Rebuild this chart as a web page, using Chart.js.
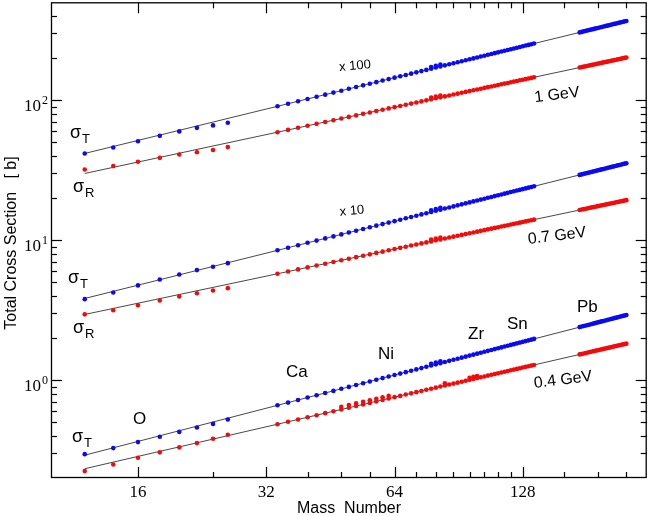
<!DOCTYPE html>
<html>
<head>
<meta charset="utf-8">
<script src="https://cdn.jsdelivr.net/npm/chart.js@4.4.1/dist/chart.umd.min.js"></script>
<style>
  html, body { margin: 0; padding: 0; background: #fff; }
  #wrap { width: 649px; height: 516px; }
</style>
</head>
<body>
<div id="wrap"><canvas id="xsChart"></canvas></div>
<script>
// mass numbers of the measured nuclei
const massNumber = [12, 14, 16, 18, 20, 22, 24, 26,
  34, 36, 38, 40, 42, 44, 46, 48, 50, 52, 54, 56, 58, 60, 62, 64, 66, 68, 70, 72, 74, 76, 78, 80,
  82, 84, 86, 88, 90, 92, 94, 96, 98, 100, 102, 104, 106, 108, 110, 112, 114, 116, 118, 120,
  122, 124, 126, 128, 130, 132, 134, 136,
  174, 176, 178, 180, 182, 184, 186, 188, 190, 192, 194, 196, 198, 200, 202, 204, 206, 208,
  210, 212, 214, 216, 218, 220, 222, 224];

// 0.4 GeV (x1)
const sigT04 = [0.296, 0.327, 0.361, 0.394, 0.427, 0.459, 0.487, 0.524,
  0.661, 0.691, 0.721, 0.751, 0.780, 0.810, 0.838, 0.867, 0.895, 0.924, 0.951, 0.979, 1.006, 1.034,
  1.061, 1.088, 1.114, 1.141, 1.167, 1.193, 1.219, 1.245, 1.271, 1.297, 1.322, 1.347, 1.373, 1.398,
  1.423, 1.448, 1.472, 1.497, 1.521, 1.546, 1.570, 1.594, 1.619, 1.643, 1.667, 1.690, 1.714, 1.738,
  1.761, 1.785, 1.808, 1.832, 1.855, 1.878, 1.901, 1.924, 1.947, 1.970,
  2.392, 2.414, 2.435, 2.457, 2.478, 2.500, 2.521, 2.542, 2.564, 2.585, 2.606, 2.627, 2.648, 2.669,
  2.690, 2.711, 2.732, 2.753, 2.774, 2.795, 2.815, 2.836, 2.857, 2.877, 2.898, 2.918];
const sigR04 = [0.224, 0.250, 0.279, 0.305, 0.331, 0.355, 0.381, 0.407,
  0.484, 0.504, 0.524, 0.543, 0.562, 0.581, 0.599, 0.617, 0.635, 0.653, 0.671, 0.688, 0.705, 0.722,
  0.739, 0.756, 0.772, 0.789, 0.805, 0.821, 0.837, 0.853, 0.868, 0.884, 0.900, 0.915, 0.930, 0.945,
  0.960, 0.975, 0.990, 1.005, 1.020, 1.034, 1.049, 1.063, 1.078, 1.092, 1.106, 1.120, 1.134, 1.148,
  1.162, 1.176, 1.189, 1.203, 1.217, 1.230, 1.244, 1.257, 1.270, 1.284,
  1.527, 1.539, 1.551, 1.564, 1.576, 1.588, 1.600, 1.612, 1.624, 1.636, 1.648, 1.660, 1.672, 1.684,
  1.696, 1.707, 1.719, 1.731, 1.743, 1.754, 1.766, 1.777, 1.789, 1.800, 1.812, 1.823];

// 0.7 GeV (x10)
const sigT07 = [3.79, 4.23, 4.75, 5.24, 5.69, 6.11, 6.45, 6.85,
  8.46, 8.83, 9.20, 9.57, 9.93, 10.29, 10.64, 10.99, 11.34, 11.68, 12.02, 12.36, 12.69, 13.02,
  13.35, 13.67, 14.00, 14.32, 14.64, 14.95, 15.27, 15.58, 15.89, 16.20, 16.51, 16.81, 17.12, 17.42,
  17.72, 18.02, 18.32, 18.61, 18.91, 19.20, 19.49, 19.78, 20.07, 20.35, 20.64, 20.92, 21.21, 21.49,
  21.77, 22.05, 22.33, 22.61, 22.88, 23.16, 23.43, 23.71, 23.98, 24.25,
  29.24, 29.49, 29.75, 30.01, 30.26, 30.51, 30.76, 31.01, 31.26, 31.51, 31.76, 32.01, 32.26, 32.51,
  32.75, 33.00, 33.24, 33.49, 33.73, 33.98, 34.22, 34.46, 34.71, 34.95, 35.19, 35.43];
const sigR07 = [2.95, 3.16, 3.43, 3.71, 3.96, 4.18, 4.37, 4.54,
  5.75, 5.97, 6.18, 6.39, 6.59, 6.79, 6.98, 7.18, 7.37, 7.56, 7.74, 7.92, 8.11, 8.28,
  8.46, 8.64, 8.81, 8.98, 9.15, 9.31, 9.48, 9.64, 9.80, 9.97, 10.12, 10.28, 10.44, 10.59,
  10.75, 10.90, 11.05, 11.20, 11.35, 11.50, 11.65, 11.79, 11.94, 12.08, 12.23, 12.37, 12.51, 12.65,
  12.79, 12.93, 13.07, 13.20, 13.34, 13.48, 13.61, 13.75, 13.88, 14.01,
  16.42, 16.54, 16.66, 16.78, 16.90, 17.02, 17.14, 17.25, 17.37, 17.49, 17.61, 17.72, 17.84, 17.95,
  18.07, 18.18, 18.29, 18.41, 18.52, 18.63, 18.75, 18.86, 18.97, 19.08, 19.19, 19.31];

// 1 GeV (x100)
const sigT10 = [41.6, 45.9, 50.9, 55.6, 59.8, 63.4, 66.0, 68.9,
  90.4, 94.3, 98.2, 102.0, 105.8, 109.5, 113.2, 116.8, 120.5, 124.0, 127.6, 131.1, 134.5, 138.0,
  141.4, 144.8, 148.1, 151.4, 154.7, 158.0, 161.3, 164.5, 167.7, 170.9, 174.1, 177.3, 180.4, 183.5,
  186.6, 189.7, 192.7, 195.8, 198.8, 201.8, 204.8, 207.8, 210.8, 213.7, 216.7, 219.6, 222.5, 225.4,
  228.3, 231.2, 234.0, 236.9, 239.7, 242.5, 245.4, 248.2, 251.0, 253.7,
  304.8, 307.4, 310.0, 312.6, 315.2, 317.8, 320.3, 322.9, 325.5, 328.0, 330.6, 333.1, 335.6, 338.1,
  340.6, 343.1, 345.6, 348.1, 350.6, 353.1, 355.6, 358.0, 360.5, 363.0, 365.4, 367.9];
const sigR10 = [32.0, 33.8, 36.3, 38.7, 40.9, 42.5, 44.0, 46.2,
  59.0, 61.3, 63.5, 65.6, 67.7, 69.8, 71.9, 73.9, 75.9, 77.8, 79.8, 81.7, 83.6, 85.5,
  87.3, 89.1, 90.9, 92.7, 94.5, 96.2, 98.0, 99.7, 101.4, 103.1, 104.7, 106.4, 108.0, 109.7,
  111.3, 112.9, 114.5, 116.1, 117.6, 119.2, 120.7, 122.3, 123.8, 125.3, 126.8, 128.3, 129.8, 131.3,
  132.7, 134.2, 135.7, 137.1, 138.6, 140.0, 141.4, 142.8, 144.2, 145.6,
  171.0, 172.2, 173.5, 174.8, 176.0, 177.3, 178.6, 179.8, 181.0, 182.3, 183.5, 184.7, 186.0, 187.2,
  188.4, 189.6, 190.8, 192.0, 193.2, 194.4, 195.6, 196.8, 198.0, 199.2, 200.4, 201.6];

// second measurements at the same mass number
const extraMass = [78, 80, 82];
const extraT04 = [1.309, 1.336, 1.362];
const extraT07 = [16.37, 16.69, 17.01];
const extraR07 = [10.09, 10.27, 10.42];
const extraT10 = [172.7, 176.0, 179.3];
const extraR10 = [104.4, 106.2, 107.8];
const extraMassR04 = [48, 50, 52, 54, 56, 58, 60, 62, 84, 96, 98, 100];
const extraR04 = [0.645, 0.664, 0.682, 0.701, 0.719, 0.737, 0.754, 0.772, 0.951, 1.040, 1.055, 1.070];

// fitted power laws, end points
const fitMass = [12, 224];
const fitT04 = [0.291, 2.918];
const fitR04 = [0.233, 1.823];
const fitT07 = [3.833, 35.43];
const fitR07 = [2.946, 19.31];
const fitT10 = [41.62, 367.9];
const fitR10 = [29.95, 201.6];

// axis ticks
const xMajorTicks = [16, 32, 64, 128];
const xMinorTicks = [24, 40, 48, 56, 72, 80, 88, 96, 104, 112, 120, 160, 192, 224];
const yMajorTicks = [1, 10, 100];
const yMinorTicks = [0.3, 0.4, 0.5, 0.6, 0.7, 0.8, 0.9, 2, 3, 4, 5, 6, 7, 8, 9,
  20, 30, 40, 50, 60, 70, 80, 90, 200, 300, 400];

const BLUE = 'rgb(10,10,245)';
const RED = 'rgb(245,10,10)';

const toPts = (xs, ys) => xs.map((x, i) => ({ x: x, y: ys[i] }));

function dots(label, xs, ys, color) {
    return {
        label: label,
        data: toPts(xs, ys),
        backgroundColor: color,
        borderWidth: 0,
        pointRadius: 2.3,
        pointHoverRadius: 2.3,
        order: 1
    };
}

function fit(label, xs, ys) {
    return {
        label: label,
        data: toPts(xs, ys),
        showLine: true,
        borderColor: '#333',
        borderWidth: 0.9,
        pointRadius: 0,
        fill: false,
        order: 2
    };
}

// text written on the plot (pixel positions)
const sigmaLabels = [
    { x: 70, y: 138, sub: 'T' },
    { x: 73, y: 192, sub: 'R' },
    { x: 68, y: 283, sub: 'T' },
    { x: 73, y: 333, sub: 'R' },
    { x: 72, y: 442, sub: 'T' }
];
const nucleusLabels = [
    { text: 'O', x: 133, y: 424 },
    { text: 'Ca', x: 286, y: 377 },
    { text: 'Ni', x: 378, y: 359 },
    { text: 'Zr', x: 468, y: 339 },
    { text: 'Sn', x: 507, y: 329 },
    { text: 'Pb', x: 577, y: 312 }
];
const tiltedLabels = [
    { text: 'x 100', x: 355, y: 66, size: 13, angle: -5 },
    { text: 'x 10', x: 352, y: 211, size: 13, angle: -5 },
    { text: '1 GeV', x: 557, y: 95, size: 16, angle: -7 },
    { text: '0.7 GeV', x: 557, y: 236, size: 16, angle: -7 },
    { text: '0.4 GeV', x: 563, y: 380, size: 16, angle: -7 }
];

const frameAndLabels = {
    id: 'frameAndLabels',
    afterDraw(chart) {
        const ctx = chart.ctx;
        const { left, right, top, bottom } = chart.chartArea;
        const xs = chart.scales.x;
        const ys = chart.scales.y;
        const line = (x1, y1, x2, y2) => {
            ctx.beginPath(); ctx.moveTo(x1, y1); ctx.lineTo(x2, y2); ctx.stroke();
        };
        ctx.save();
        ctx.strokeStyle = '#000';
        ctx.lineWidth = 1.3;
        ctx.strokeRect(left + 0.5, top + 0.5, right - left - 1, bottom - top - 1);

        ctx.lineWidth = 1.2;
        xMajorTicks.forEach(v => {
            const p = Math.round(xs.getPixelForValue(v)) + 0.5;
            line(p, bottom, p, bottom - 11); line(p, top, p, top + 11);
        });
        xMinorTicks.forEach(v => {
            const p = Math.round(xs.getPixelForValue(v)) + 0.5;
            line(p, bottom, p, bottom - 6); line(p, top, p, top + 6);
        });
        yMajorTicks.forEach(v => {
            const p = Math.round(ys.getPixelForValue(v)) + 0.5;
            line(left, p, left + 11, p); line(right, p, right - 11, p);
        });
        yMinorTicks.forEach(v => {
            const p = Math.round(ys.getPixelForValue(v)) + 0.5;
            line(left, p, left + 6, p); line(right, p, right - 6, p);
        });

        ctx.fillStyle = '#000';
        // tick labels
        ctx.font = '17px "Liberation Serif", serif';
        ctx.textBaseline = 'alphabetic';
        ctx.textAlign = 'center';
        xMajorTicks.forEach(v => {
            ctx.fillText(String(v), xs.getPixelForValue(v), 497);
        });
        yMajorTicks.forEach(v => {
            const p = ys.getPixelForValue(v);
            ctx.font = '17px "Liberation Serif", serif';
            ctx.textAlign = 'right';
            ctx.fillText('10', 41, p + 11);
            ctx.font = '12px "Liberation Serif", serif';
            ctx.textAlign = 'left';
            ctx.fillText(String(Math.round(Math.log10(v))), 42, p + 4);
        });

        // axis titles
        ctx.font = '16px "Liberation Sans", Arial, sans-serif';
        ctx.textAlign = 'center';
        ctx.fillText('Mass  Number', 349, 513);
        ctx.save();
        ctx.translate(16, 243);
        ctx.rotate(-Math.PI / 2);
        ctx.fillText('Total Cross Section   [ b]', 0, 0);
        ctx.restore();

        // sigma labels
        ctx.textAlign = 'left';
        sigmaLabels.forEach(s => {
            ctx.font = '18px "Liberation Sans", Arial, sans-serif';
            ctx.fillText('\u03c3', s.x, s.y);
            ctx.font = '13px "Liberation Sans", Arial, sans-serif';
            ctx.fillText(s.sub, s.x + 12, s.y + 5);
        });

        ctx.font = '17px "Liberation Sans", Arial, sans-serif';
        nucleusLabels.forEach(n => ctx.fillText(n.text, n.x, n.y));

        ctx.textAlign = 'center';
        ctx.textBaseline = 'middle';
        tiltedLabels.forEach(t => {
            ctx.save();
            ctx.translate(t.x, t.y);
            ctx.rotate(t.angle * Math.PI / 180);
            ctx.font = t.size + 'px "Liberation Sans", Arial, sans-serif';
            ctx.fillText(t.text, 0, 0);
            ctx.restore();
        });
        ctx.restore();
    }
};

document.addEventListener("DOMContentLoaded", function () {
    const ctx = document.getElementById('xsChart').getContext('2d');

    new Chart(ctx, {
        type: 'scatter',
        data: {
            datasets: [
                fit('fit T 1 GeV', fitMass, fitT10),
                fit('fit R 1 GeV', fitMass, fitR10),
                fit('fit T 0.7 GeV', fitMass, fitT07),
                fit('fit R 0.7 GeV', fitMass, fitR07),
                fit('fit T 0.4 GeV', fitMass, fitT04),
                fit('fit R 0.4 GeV', fitMass, fitR04),
                dots('sigma T 1 GeV x100', massNumber, sigT10, BLUE),
                dots('sigma R 1 GeV x100', massNumber, sigR10, RED),
                dots('sigma T 0.7 GeV x10', massNumber, sigT07, BLUE),
                dots('sigma R 0.7 GeV x10', massNumber, sigR07, RED),
                dots('sigma T 0.4 GeV', massNumber, sigT04, BLUE),
                dots('sigma R 0.4 GeV', massNumber, sigR04, RED),
                dots('extra T 1 GeV', extraMass, extraT10, BLUE),
                dots('extra R 1 GeV', extraMass, extraR10, RED),
                dots('extra T 0.7 GeV', extraMass, extraT07, BLUE),
                dots('extra R 0.7 GeV', extraMass, extraR07, RED),
                dots('extra T 0.4 GeV', extraMass, extraT04, BLUE),
                dots('extra R 0.4 GeV', extraMassR04, extraR04, RED)
            ]
        },
        options: {
            responsive: true,
            maintainAspectRatio: false,
            animation: false,
            layout: {
                padding: { left: 51, right: 2, top: 2, bottom: 38 }
            },
            plugins: {
                legend: { display: false },
                tooltip: { enabled: false }
            },
            scales: {
                x: { type: 'logarithmic', min: 10, max: 250, display: false },
                y: { type: 'logarithmic', min: 0.2, max: 500, display: false }
            }
        },
        plugins: [frameAndLabels]
    });
});
</script>
</body>
</html>
